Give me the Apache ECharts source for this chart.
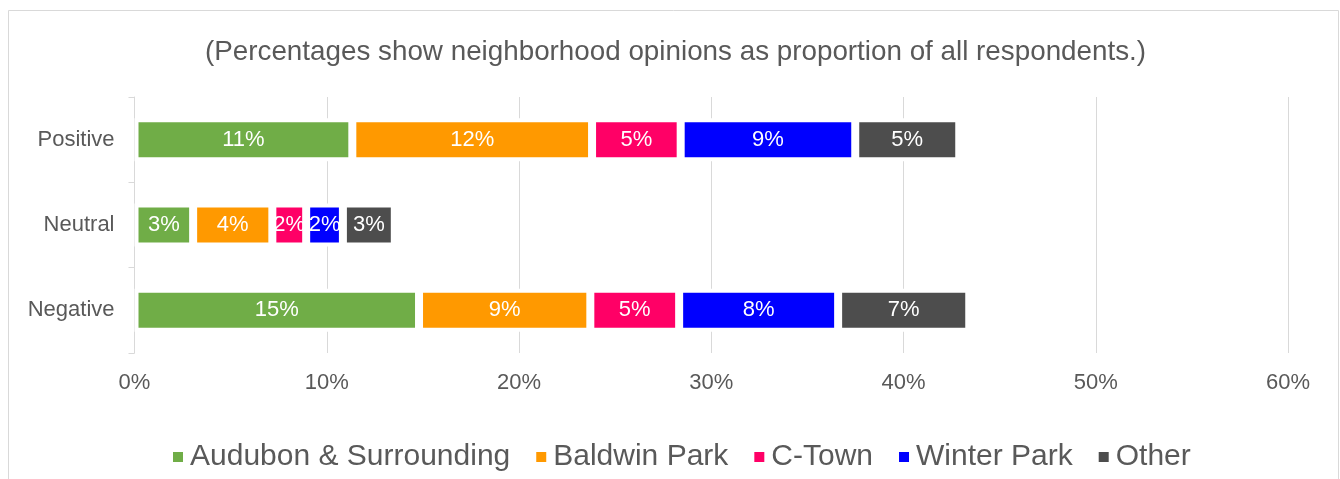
<!DOCTYPE html>
<html>
<head>
<meta charset="utf-8">
<script src="https://cdn.jsdelivr.net/npm/echarts@6/dist/echarts.min.js"></script>
<style>
  html, body { margin: 0; padding: 0; background: #ffffff; }
  #chart { width: 1340px; height: 479px; }
</style>
</head>
<body>
<div id="chart"></div>
<script>
// Sentiment categories (top to bottom)
const categories = ['Positive', 'Neutral', 'Negative'];

// Share of all respondents (%) per neighborhood, in category order
const audubon     = [11.33, 3.05, 14.80];
const baldwinPark = [12.47, 4.12, 8.91];
const cTown       = [4.61, 1.76, 4.62];
const winterPark  = [9.08, 1.91, 8.27];
const other       = [5.41, 2.70, 6.82];

const seriesNames = ['Audubon & Surrounding', 'Baldwin Park', 'C-Town', 'Winter Park', 'Other'];
const seriesData  = [audubon, baldwinPark, cTown, winterPark, other];
const seriesColors = ['#70AD47', '#FF9900', '#FF0066', '#0000FF', '#4D4D4D'];

// Value axis ticks (%)
const axisMin = 0, axisMax = 60, axisStep = 10;

const FONT = '"Liberation Sans", Arial, sans-serif';
const TEXT = '#595959';

const chart = echarts.init(document.getElementById('chart'), null, { renderer: 'canvas' });

const series = seriesNames.map((name, i) => ({
  name,
  type: 'bar',
  stack: 'total',
  barWidth: 43,
  data: seriesData[i],
  itemStyle: { color: seriesColors[i], borderColor: '#ffffff', borderWidth: 4 },
  label: {
    show: true,
    position: 'inside',
    color: '#ffffff',
    fontFamily: FONT,
    fontSize: 22,
    formatter: p => Math.round(p.value) + '%'
  }
}));

chart.setOption({
  backgroundColor: '#ffffff',
  animation: false,
  title: {
    text: '(Percentages show neighborhood opinions as proportion of all respondents.)',
    left: 200,
    top: 33,
    textStyle: { fontFamily: FONT, fontSize: 27.8, fontWeight: 'normal', color: TEXT }
  },
  graphic: [{
    type: 'rect',
    shape: { x: 8.5, y: 10.5, width: 1330, height: 500 },
    style: { fill: 'none', stroke: '#d9d9d9', lineWidth: 1 },
    silent: true,
    z: -1
  }],
  legend: {
    bottom: 2,
    left: 166,
    itemWidth: 12,
    itemHeight: 12,
    itemGap: 24,
    icon: 'rect',
    textStyle: { fontFamily: FONT, fontSize: 30, color: TEXT, padding: [0, 0, 0, 1] },
    data: seriesNames
  },
  grid: { left: 134.5, right: 52, top: 97, bottom: 126, containLabel: false },
  xAxis: {
    type: 'value',
    min: axisMin,
    max: axisMax,
    interval: axisStep,
    axisLine: { show: false },
    axisTick: { show: false },
    axisLabel: {
      formatter: v => v + '%',
      color: TEXT, fontFamily: FONT, fontSize: 22, margin: 19
    },
    splitLine: { lineStyle: { color: '#d9d9d9', width: 1 } }
  },
  yAxis: {
    type: 'category',
    data: categories,
    inverse: true,
    axisLine: { lineStyle: { color: '#d9d9d9', width: 1 } },
    axisTick: { show: true, length: 6, lineStyle: { color: '#d9d9d9' } },
    axisLabel: { color: TEXT, fontFamily: FONT, fontSize: 22, margin: 20 }
  },
  series
});
</script>
</body>
</html>
